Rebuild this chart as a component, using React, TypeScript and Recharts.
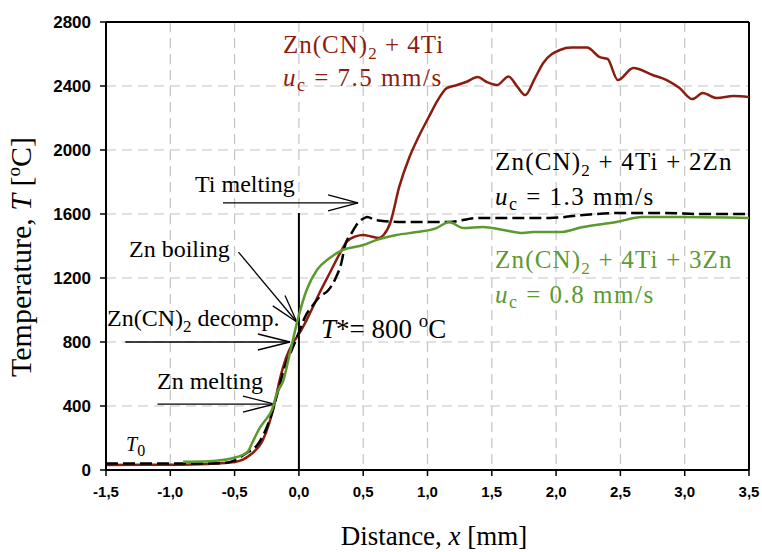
import { CartesianGrid, Customized, Line, LineChart, ReferenceLine, XAxis, YAxis } from "recharts";
import type { ReactNode } from "react";

// Zn(CN)2 + 4Ti, uc = 7.5 mm/s
const redX = [-1.5, -1.0, -0.7, -0.5, -0.38, -0.28, -0.23, -0.19, -0.15, -0.1, -0.05, 0, 0.06, 0.16, 0.24, 0.32, 0.37, 0.44, 0.5, 0.56, 0.62, 0.66, 0.71, 0.78, 0.86, 0.93, 1.01, 1.08, 1.15, 1.23, 1.3, 1.39, 1.46, 1.54, 1.63, 1.7, 1.76, 1.83, 1.9, 2.03, 2.12, 2.24, 2.34, 2.4, 2.48, 2.6, 2.75, 2.86, 2.96, 3.06, 3.14, 3.25, 3.38, 3.5];
const redT = [32, 33, 38, 50, 94, 187, 294, 412, 560, 700, 790, 850, 937, 1106, 1231, 1356, 1425, 1460, 1469, 1460, 1450, 1470, 1544, 1769, 1956, 2081, 2206, 2312, 2387, 2406, 2425, 2456, 2425, 2406, 2460, 2394, 2343, 2440, 2544, 2625, 2640, 2640, 2581, 2569, 2437, 2512, 2469, 2437, 2387, 2318, 2356, 2325, 2337, 2331];

// Zn(CN)2 + 4Ti + 2Zn, uc = 1.3 mm/s
const blackX = [-1.5, -1.0, -0.6, -0.5, -0.4, -0.33, -0.27, -0.21, -0.16, -0.11, -0.05, 0, 0.05, 0.11, 0.16, 0.23, 0.29, 0.33, 0.36, 0.41, 0.46, 0.51, 0.53, 0.6, 0.81, 1.02, 1.17, 1.38, 1.59, 1.95, 2.21, 2.47, 2.86, 3.12, 3.5];
const blackT = [40, 40, 42, 60, 110, 150, 230, 356, 500, 644, 760, 860, 960, 1031, 1081, 1125, 1206, 1294, 1406, 1481, 1544, 1575, 1581, 1562, 1550, 1550, 1550, 1575, 1575, 1575, 1594, 1606, 1606, 1600, 1600];

// Zn(CN)2 + 4Ti + 3Zn, uc = 0.8 mm/s
const greenX = [-0.9, -0.7, -0.51, -0.4, -0.36, -0.3, -0.26, -0.21, -0.17, -0.12, -0.07, -0.01, 0.06, 0.14, 0.24, 0.34, 0.5, 0.6, 0.76, 0.92, 1.07, 1.17, 1.19, 1.28, 1.43, 1.59, 1.74, 1.82, 2.03, 2.21, 2.47, 2.67, 2.99, 3.5];
const greenT = [52, 55, 75, 112, 175, 269, 312, 375, 481, 562, 731, 937, 1125, 1250, 1325, 1375, 1406, 1437, 1469, 1487, 1512, 1550, 1545, 1512, 1519, 1500, 1481, 1487, 1487, 1519, 1550, 1581, 1581, 1575];

const xTicks = [-1.5, -1.0, -0.5, 0, 0.5, 1.0, 1.5, 2.0, 2.5, 3.0, 3.5];
const yTicks = [0, 400, 800, 1200, 1600, 2000, 2400, 2800];

const toRows = (xs: number[], ts: number[]) => xs.map((x, i) => ({ x, t: ts[i] }));
const redData = toRows(redX, redT);
const blackData = toRows(blackX, blackT);
const greenData = toRows(greenX, greenT);

// annotation arrows in data units: [x1, y1, x2, y2]
const arrows: number[][] = [
    // Ti melting
    [-0.59, 1669, 0.46, 1669], [0.227, 1719, 0.46, 1669], [0.227, 1619, 0.46, 1669],
    // Zn boiling
    [-0.47, 1362, -0.016, 925], [-0.203, 1026, -0.016, 925], [-0.108, 1091, -0.016, 925],
    // Zn(CN)2 decomp.
    [-1.35, 800, -0.07, 800], [-0.319, 850, -0.07, 800], [-0.319, 750, -0.07, 800],
    // Zn melting
    [-1.1, 412, -0.19, 412], [-0.435, 462, -0.19, 412], [-0.435, 362, -0.19, 412],
    // T* marker
    [0, 0, 0, 1606],
];

const RED = "#8a1d0f";
const GREEN = "#5b9a2f";
const serif = "Liberation Serif, Times New Roman, serif";
const sans = "Liberation Sans, Arial, sans-serif";

const Txt = (p: { x: number; y: number; fill?: string; size?: number; anchor?: string; rotate?: boolean; spacing?: number; children: ReactNode }) => (
    <text
        x={p.x}
        y={p.y}
        fill={p.fill ?? "#000"}
        textAnchor={p.anchor ?? "start"}
        transform={p.rotate ? `rotate(-90, ${p.x}, ${p.y})` : undefined}
        fontFamily={serif}
        fontSize={p.size ?? 24}
        letterSpacing={p.spacing ?? 0}
    >
        {p.children}
    </text>
);

const sub = (s: string, rest: string) => (
    <>
        <tspan fontSize={17} dy={6}>{s}</tspan>
        <tspan dy={-6}>{rest}</tspan>
    </>
);

const uc = (rest: string) => (
    <>
        <tspan fontStyle="italic">u</tspan>
        <tspan fontSize={18} dy={5}>c</tspan>
        <tspan dy={-5}>{rest}</tspan>
    </>
);

const Annotations = () => (
    <g>
        <Txt x={283} y={53} fill={RED} size={25} spacing={1}>Zn(CN){sub("2", " + 4Ti")}</Txt>
        <Txt x={283} y={86} fill={RED} size={25} spacing={1.5}>{uc(" = 7.5 mm/s")}</Txt>
        <Txt x={495} y={170} size={25} spacing={1.2}>Zn(CN){sub("2", " + 4Ti + 2Zn")}</Txt>
        <Txt x={495} y={205} size={25} spacing={1.5}>{uc(" = 1.3 mm/s")}</Txt>
        <Txt x={495} y={268} fill={GREEN} size={25} spacing={1.2}>Zn(CN){sub("2", " + 4Ti + 3Zn")}</Txt>
        <Txt x={495} y={303} fill={GREEN} size={25} spacing={1.5}>{uc(" = 0.8 mm/s")}</Txt>
        <Txt x={195} y={192}>Ti melting</Txt>
        <Txt x={129} y={257}>Zn boiling</Txt>
        <Txt x={107} y={326}>Zn(CN){sub("2", " decomp.")}</Txt>
        <Txt x={157} y={389}>Zn melting</Txt>
        <Txt x={321} y={338} size={27}>
            <tspan fontStyle="italic">T</tspan>*= 800 <tspan fontSize={19} dy={-11}>o</tspan>
            <tspan dy={11}>C</tspan>
        </Txt>
        <Txt x={126} y={451} size={20}>
            <tspan fontStyle="italic">T</tspan>
            <tspan fontSize={16} dy={5}>0</tspan>
        </Txt>
        <Txt x={434} y={545} anchor="middle" size={27}>
            Distance, <tspan fontStyle="italic">x</tspan> [mm]
        </Txt>
        <Txt x={31} y={257} anchor="middle" size={30} rotate>
            Temperature, <tspan fontStyle="italic">T</tspan> [<tspan fontSize={19} dy={-11}>o</tspan>
            <tspan dy={11}>C]</tspan>
        </Txt>
    </g>
);

export default function App() {
    return (
        <div style={{ position: "absolute", left: 0, top: 0, width: 762, height: 552, background: "#fff" }}>
            <LineChart width={762} height={552} margin={{ top: 22, right: 13, left: 0, bottom: 0 }}>
                <CartesianGrid stroke="#c4c4c4" strokeDasharray="10 6" strokeWidth={1.2} />
                <XAxis
                    type="number"
                    dataKey="x"
                    domain={[-1.5, 3.5]}
                    ticks={xTicks}
                    allowDataOverflow
                    height={82}
                    tickFormatter={(v: number) => v.toFixed(1).replace(".", ",")}
                    tick={{ fill: "#000", fontSize: 15, fontWeight: "bold", fontFamily: sans }}
                    tickSize={6}
                    tickMargin={10}
                    axisLine={{ stroke: "#000", strokeWidth: 2 }}
                    tickLine={{ stroke: "#000", strokeWidth: 1.5 }}
                />
                <YAxis
                    type="number"
                    domain={[0, 2800]}
                    ticks={yTicks}
                    width={106}
                    tick={{ fill: "#000", fontSize: 17, fontWeight: "bold", fontFamily: sans }}
                    tickSize={6}
                    tickMargin={9}
                    axisLine={{ stroke: "#000", strokeWidth: 2 }}
                    tickLine={{ stroke: "#000", strokeWidth: 1.5 }}
                />
                <ReferenceLine y={2800} stroke="#000" strokeWidth={2} />
                <ReferenceLine x={3.5} stroke="#000" strokeWidth={2} />
                {arrows.map((a, i) => (
                    <ReferenceLine
                        key={i}
                        segment={[{ x: a[0], y: a[1] }, { x: a[2], y: a[3] }]}
                        stroke="#000"
                        strokeWidth={i === 12 ? 2 : 1.3}
                    />
                ))}
                <Line data={redData} dataKey="t" type="monotone" stroke={RED} strokeWidth={2.5} dot={false} isAnimationActive={false} />
                <Line data={blackData} dataKey="t" type="monotone" stroke="#000" strokeWidth={2.5} strokeDasharray="12 5" dot={false} isAnimationActive={false} />
                <Line data={greenData} dataKey="t" type="monotone" stroke={GREEN} strokeWidth={2.5} dot={false} isAnimationActive={false} />
                <Customized component={Annotations} />
            </LineChart>
        </div>
    );
}
